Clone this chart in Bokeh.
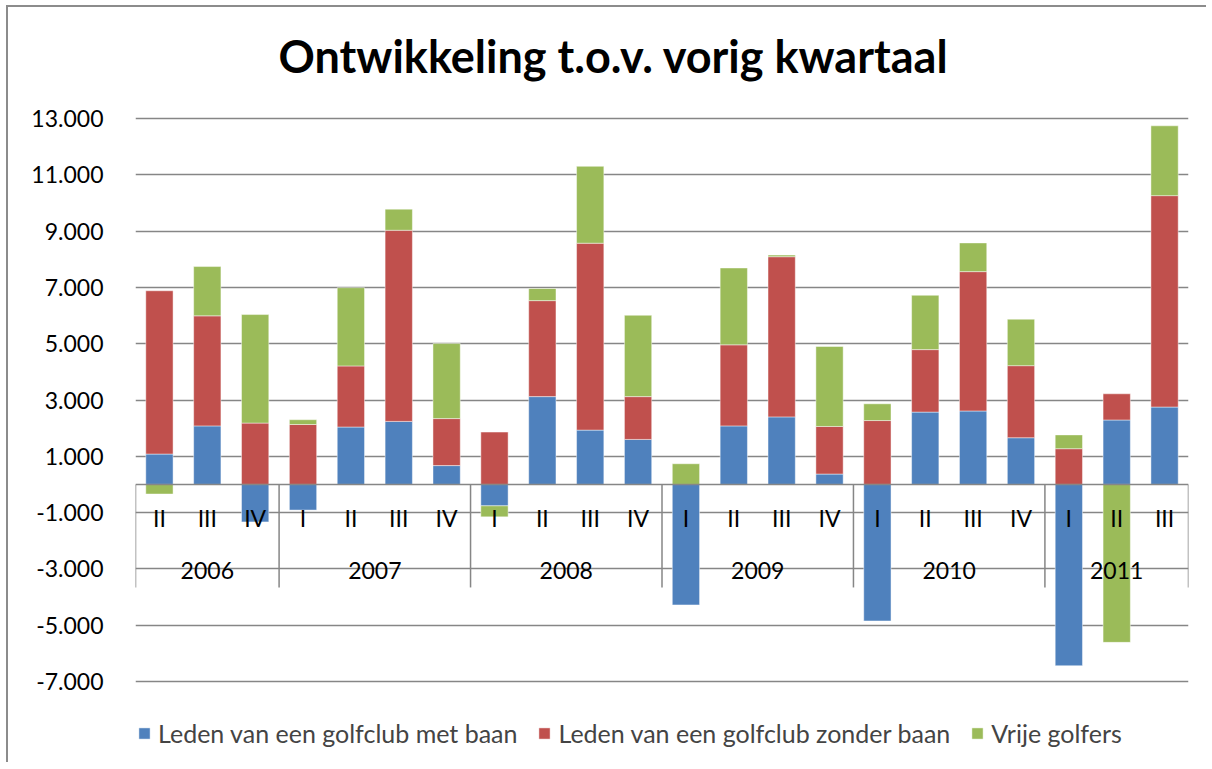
import numpy as np
from bokeh.plotting import figure
from bokeh.models import (FactorRange, Range1d, FixedTicker, ColumnDataSource,
                          Legend, LegendItem, Span)
from bokeh.core.properties import value
from bokeh.embed import file_html
from bokeh.resources import INLINE

# ---------------- data ----------------
years = ["2006"] * 3 + ["2007"] * 4 + ["2008"] * 4 + ["2009"] * 4 + ["2010"] * 4 + ["2011"] * 3
quarters = ["II", "III", "IV",
            "I", "II", "III", "IV",
            "I", "II", "III", "IV",
            "I", "II", "III", "IV",
            "I", "II", "III", "IV",
            "I", "II", "III"]
year_groups = ["2006", "2007", "2008", "2009", "2010", "2011"]

series_names = ["Leden van een golfclub met baan",
                "Leden van een golfclub zonder baan",
                "Vrije golfers"]
met_baan = [1080, 2080, -1330,
            -910, 2040, 2240, 670,
            -760, 3120, 1930, 1600,
            -4280, 2080, 2400, 370,
            -4850, 2570, 2610, 1660,
            -6440, 2290, 2750]
zonder_baan = [5800, 3910, 2180,
               2130, 2170, 6790, 1670,
               1860, 3410, 6640, 1520,
               0, 2880, 5690, 1690,
               2270, 2220, 4950, 2560,
               1270, 930, 7510]
vrije_golfers = [-340, 1750, 3855,
                 170, 2780, 750, 2665,
                 -390, 430, 2730, 2890,
                 735, 2730, 60, 2840,
                 595, 1930, 1020, 1650,
                 490, -5610, 2480]
colors = ["#4F81BD", "#C0504D", "#9BBB59"]

y_ticks = [-7000, -5000, -3000, -1000, 1000, 3000, 5000, 7000, 9000, 11000, 13000]
y_tick_labels = ["-7.000", "-5.000", "-3.000", "-1.000", "1.000", "3.000",
                 "5.000", "7.000", "9.000", "11.000", "13.000"]

FONT = "Lato"
GRID = "#868686"

# layout (canvas pixels): gridded area -7.000..13.000 is GRID_PX tall starting at
# GRID_TOP; the frame extends a bit above it (title room) and below it (legend room)
HEIGHT = 757
FRAME_TOP = 92
GRID_TOP = 111
GRID_PX = 563
px_per_unit = GRID_PX / (y_ticks[-1] - y_ticks[0])
y_end = y_ticks[-1] + (GRID_TOP - FRAME_TOP) / px_per_unit
y_start = y_ticks[0] - (HEIGHT - GRID_TOP - GRID_PX) / px_per_unit

factors = list(zip(years, quarters))
n = len(factors)

p = figure(x_range=FactorRange(factors=factors, factor_padding=0, group_padding=0, range_padding=0),
           y_range=Range1d(y_start, y_end),
           width=1200, height=HEIGHT, output_backend="svg", toolbar_location=None,
           title="Ontwikkeling t.o.v. vorig kwartaal",
           min_border_left=127, min_border_right=20, min_border_top=FRAME_TOP, min_border_bottom=0)
p.styles = {"border-top": "2px solid #8c8c8c", "border-left": "2px solid #8c8c8c",
            "margin-left": "6px", "margin-top": "5px"}

p.title.text_font = FONT
p.title.text_font_size = "45px"
p.title.text_font_style = "bold"
p.title.align = "left"
p.title.offset = 143
p.title.standoff = 34
p.title.text_color = "black"

p.outline_line_color = None
p.xaxis.visible = False
p.xgrid.visible = False
p.ygrid.ticker = FixedTicker(ticks=y_ticks)
p.ygrid.grid_line_color = GRID
p.ygrid.grid_line_width = 1.5

ax = p.yaxis[0]
ax.ticker = FixedTicker(ticks=y_ticks)
ax.major_label_overrides = {t: l for t, l in zip(y_ticks, y_tick_labels)}
ax.axis_line_color = None
ax.major_tick_line_color = None
ax.minor_tick_line_color = None
ax.major_tick_in = 0
ax.major_tick_out = 0
ax.major_label_standoff = 32
ax.major_label_text_font = FONT
ax.major_label_text_font_size = "23px"
ax.major_label_text_color = "black"

# stacked bars (positive up, negative down)
pos = np.zeros(n)
neg = np.zeros(n)
items = []
for vals, color, name in zip([met_baan, zonder_baan, vrije_golfers], colors, series_names):
    v = np.array(vals, dtype=float)
    bottom = np.where(v >= 0, pos, neg)
    top = bottom + v
    pos = np.where(v >= 0, top, pos)
    neg = np.where(v < 0, top, neg)
    src = ColumnDataSource(dict(x=factors, bottom=bottom, top=top))
    r = p.vbar(x="x", bottom="bottom", top="top", width=0.57, source=src,
               fill_color=color, line_color="white", line_alpha=0.45, line_width=1)
    items.append(LegendItem(label=name, renderers=[r]))

# category axis at zero
p.add_layout(Span(location=0, dimension="width", line_color=GRID, line_width=1.5, level="overlay"))

sep_x = [(y, q, -0.5) for (y, q) in factors if q == "I" or (y, q) == factors[0]]
sep_x.append(factors[-1] + (0.5,))
p.ray(x=sep_x, y=[0] * len(sep_x), length=103, length_units="screen",
      angle=-np.pi / 2, line_color=GRID, line_width=1.5)

p.text(x=factors, y=[0] * n, text=quarters, y_offset=34,
       text_align="center", text_baseline="middle",
       text_font=value(FONT), text_font_size="23px", text_color="black")
p.text(x=year_groups, y=[0] * len(year_groups), text=year_groups, y_offset=86,
       text_align="center", text_baseline="middle",
       text_font=value(FONT), text_font_size="23px", text_color="black")

legend = Legend(items=items, orientation="horizontal", location=(2, 16),
                border_line_color=None, background_fill_alpha=0,
                label_text_font=FONT, label_text_font_size="25px",
                glyph_width=14, glyph_height=14, spacing=20, label_standoff=7,
                padding=0, margin=0)
p.add_layout(legend, "center")

open("out.html", "w").write(file_html(p, INLINE))
